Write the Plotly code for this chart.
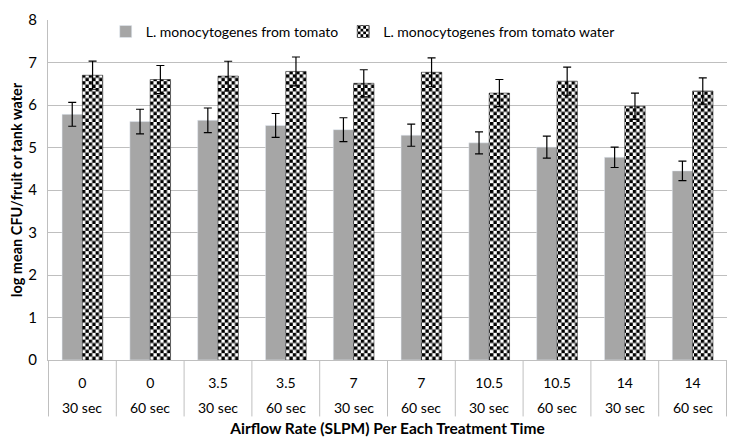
import plotly.graph_objects as go

airflow = ["0", "0", "3.5", "3.5", "7", "7", "10.5", "10.5", "14", "14"]
times = ["30 sec", "60 sec"] * 5

tomato = [5.78, 5.61, 5.64, 5.52, 5.42, 5.29, 5.11, 5.01, 4.77, 4.45]
tomato_err = [0.28, 0.29, 0.29, 0.28, 0.28, 0.26, 0.26, 0.26, 0.24, 0.23]
water = [6.70, 6.60, 6.68, 6.79, 6.51, 6.77, 6.28, 6.56, 5.97, 6.33]
water_err = [0.33, 0.33, 0.35, 0.34, 0.32, 0.34, 0.32, 0.33, 0.31, 0.31]

font = "Lato"
cats = [f"{a} / {t}" for a, t in zip(airflow, times)]

fig = go.Figure()

fig.add_trace(go.Bar(
    x=cats, y=tomato,
    name="L. monocytogenes from tomato",
    marker=dict(color="#a6a6a6"),
    error_y=dict(type="data", array=tomato_err, color="black", thickness=1.2, width=4)
))

fig.add_trace(go.Bar(
    x=cats, y=water,
    name="L. monocytogenes from tomato water",
    marker=dict(
        color="white",
        line=dict(color="#222", width=0.6),
        pattern=dict(path="M0,0H3.4V3.4H0ZM3.4,3.4H6.8V6.8H3.4Z", size=6.8,
                     fgcolor="black", bgcolor="white", fillmode="replace", solidity=1)
    ),
    error_y=dict(type="data", array=water_err, color="black", thickness=1.2, width=4)
))

# second row of category labels (treatment time)
for c, t in zip(cats, times):
    fig.add_annotation(x=c, y=-0.1395, xref="x", yref="paper", yanchor="middle",
                       text=t, showarrow=False, font=dict(family=font, size=14, color="black"))

# vertical dividers between the category cells
for i in range(len(cats) + 1):
    fig.add_shape(type="line", xref="x", yref="paper", x0=i - 0.5, x1=i - 0.5,
                  y0=0, y1=-0.166, line=dict(color="#bfbfbf", width=1))

# page body adds an 8px offset, so the figure is sized to the visible window
fig.update_layout(
    width=728, height=433,
    margin=dict(l=40, r=9, t=8, b=81),
    paper_bgcolor="white", plot_bgcolor="white",
    barmode="group", bargap=0.4, bargroupgap=0,
    font=dict(family=font, size=14, color="black"),
    legend=dict(orientation="h", x=0.085, y=0.965, xanchor="left", yanchor="middle",
                bgcolor="rgba(0,0,0,0)", font=dict(family=font, size=14)),
    xaxis=dict(
        type="category", tickvals=cats, ticktext=airflow, ticks="",
        showline=True, linecolor="#bfbfbf", linewidth=1,
        ticklabelstandoff=10, automargin=False,
        tickfont=dict(size=14),
        title=dict(text="<b>Airflow Rate (SLPM) Per Each Treatment Time</b>", standoff=33,
                   font=dict(family=font, size=15.5)),
    ),
    yaxis=dict(
        range=[0, 8], dtick=1, showgrid=True, gridcolor="#bfbfbf", gridwidth=1,
        showline=True, linecolor="#bfbfbf", zeroline=False, ticks="",
        tickfont=dict(size=15), ticklabelstandoff=7, automargin=False,
        ticklabeloverflow="allow",
        title=dict(text="<b>log mean CFU/fruit or tank water</b>", standoff=8,
                   font=dict(family=font, size=14.5)),
    ),
)

fig.write_html("out.html")
